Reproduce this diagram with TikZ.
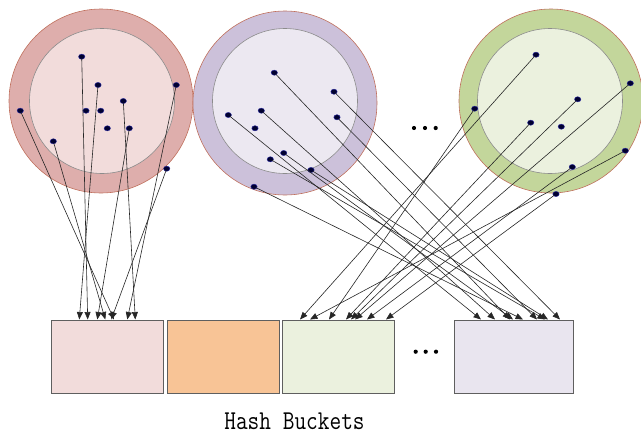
\documentclass[tikz,border=0pt]{standalone}
\usetikzlibrary{arrows.meta,shapes.geometric}
\definecolor{ringA}{HTML}{DEAEAC}
\definecolor{coreA}{HTML}{F2DCDB}
\definecolor{ringB}{HTML}{CCC1DA}
\definecolor{coreB}{HTML}{ECE8F1}
\definecolor{ringC}{HTML}{C3D69B}
\definecolor{coreC}{HTML}{EBF1DE}
\definecolor{rim}{HTML}{C0705D}
\definecolor{corerim}{HTML}{8C8C8C}
\definecolor{boxA}{HTML}{F2DCDB}
\definecolor{boxB}{HTML}{F8C496}
\definecolor{boxC}{HTML}{EBF1DE}
\definecolor{boxD}{HTML}{E9E5EF}
\definecolor{boxrim}{HTML}{5F5F5F}
\definecolor{dotfill}{HTML}{000030}
\definecolor{dotrim}{HTML}{2A2AA0}
\tikzset{
  ring/.style={circle, draw=rim, line width=0.6pt, minimum size=184pt, inner sep=0pt},
  core/.style={circle, draw=corerim, line width=0.6pt, minimum size=145pt, inner sep=0pt},
  key/.style={ellipse, fill=dotfill, draw=dotrim, line width=0.4pt,
              minimum width=6.4pt, minimum height=5.2pt, inner sep=0pt},
  bucket/.style={rectangle, draw=boxrim, line width=1pt, anchor=north west,
                 minimum height=73pt, inner sep=0pt},
  link/.style={draw=black!85, line width=0.6pt, -{Triangle[length=7.5pt,width=6pt]}, shorten <=-1pt},
  gap/.style={circle, fill=black, inner sep=0pt, minimum size=4.2pt}
}
\begin{document}
\begin{tikzpicture}[x=1pt,y=-1pt]
\useasboundingbox (0,0) rectangle (641,434);

% three key groups
\node[ring, fill=ringA] (ga) at (101,101) {};
\node[core, fill=coreA] (ca) at (102,101) {};
\node[ring, fill=ringB] (gb) at (285,103) {};
\node[core, fill=coreB] (cb) at (285,101) {};
\node[ring, fill=ringC] (gc) at (551,101) {};
\node[core, fill=coreC] (cc) at (550,101) {};

% buckets
\node[bucket, fill=boxA, minimum width=112.6pt] (b1) at (50.7,320) {};
\node[bucket, fill=boxB, minimum width=112.6pt] (b2) at (166.7,320) {};
\node[bucket, fill=boxC, minimum width=112.6pt] (b3) at (281.7,320) {};
\node[bucket, fill=boxD, minimum width=118.7pt] (b4) at (454,320) {};

% elided groups and buckets
\node[gap] (e1) at (414,128) {};
\node[gap] (e2) at (425,128) {};
\node[gap] (e3) at (435.7,128) {};
\node[gap] (e4) at (415.7,351.7) {};
\node[gap] (e5) at (425.7,351.7) {};
\node[gap] (e6) at (436,351.7) {};

% keys of the first group
\node[key] (l1) at (81.7,56.7) {};
\node[key] (l2) at (98,85) {};
\node[key] (l3) at (86,110.7) {};
\node[key] (l4) at (100.7,110.7) {};
\node[key] (l5) at (123.3,101) {};
\node[key] (l6) at (107.3,128.3) {};
\node[key] (l7) at (129.3,128.3) {};
\node[key] (l8) at (20.3,110.7) {};
\node[key] (l9) at (53.3,141.3) {};
\node[key] (l10) at (176.3,85) {};
\node[key] (l11) at (166.7,168.7) {};

% keys of the second group
\node[key] (m1) at (274.3,72.7) {};
\node[key] (m2) at (334,91.7) {};
\node[key] (m3) at (337,117.3) {};
\node[key] (m4) at (228.3,115) {};
\node[key] (m5) at (261.3,110.7) {};
\node[key] (m6) at (255,128.3) {};
\node[key] (m7) at (283.7,153) {};
\node[key] (m8) at (270.3,159.3) {};
\node[key] (m9) at (311,170) {};
\node[key] (m10) at (254,186.7) {};

% keys of the last group
\node[key] (r1) at (536,54.7) {};
\node[key] (r2) at (474.7,108.7) {};
\node[key] (r3) at (577.7,99.3) {};
\node[key] (r4) at (630.3,83.3) {};
\node[key] (r5) at (530.7,122.7) {};
\node[key] (r6) at (561.3,126.7) {};
\node[key] (r7) at (572.3,167) {};
\node[key] (r8) at (625.3,150.7) {};
\node[key] (r9) at (556,194) {};

% landing points on the bucket tops
\foreach \n/\x in {a1/79.3, a2/87.7, a3/97.3, a4/105.3, a5/111.3, a6/114, a7/127.3, a8/135.3,
                   c1/300, c2/310, c3/329, c4/346, c5/351, c6/355, c7/367, c8/386,
                   d1/481, d2/495, d3/510, d4/513, d5/523, d6/537, d7/545, d8/548, d9/560}
  \coordinate (\n) at (\x,319.5);

% hashing arrows
\foreach \s/\t in {l2/a1, l1/a2, l7/a3, l9/a4, l11/a5, l8/a6, l10/a7, l5/a8,
                   r1/c1, r8/c2, r2/c3, r5/c4, r3/c5, r4/c6, r7/c7, r9/c8,
                   m4/d1, m5/d2, m1/d3, m7/d4, m10/d5, m3/d6, m8/d7, m9/d8, m2/d9}
  \draw[link] (\s) -- (\t);

% caption
\node[anchor=base, inner sep=0pt] (cap) at (294.5,429)
  {\scalebox{1}[1.2]{\fontsize{22.7}{24}\selectfont\ttfamily Hash Buckets}};
\end{tikzpicture}
\end{document}
